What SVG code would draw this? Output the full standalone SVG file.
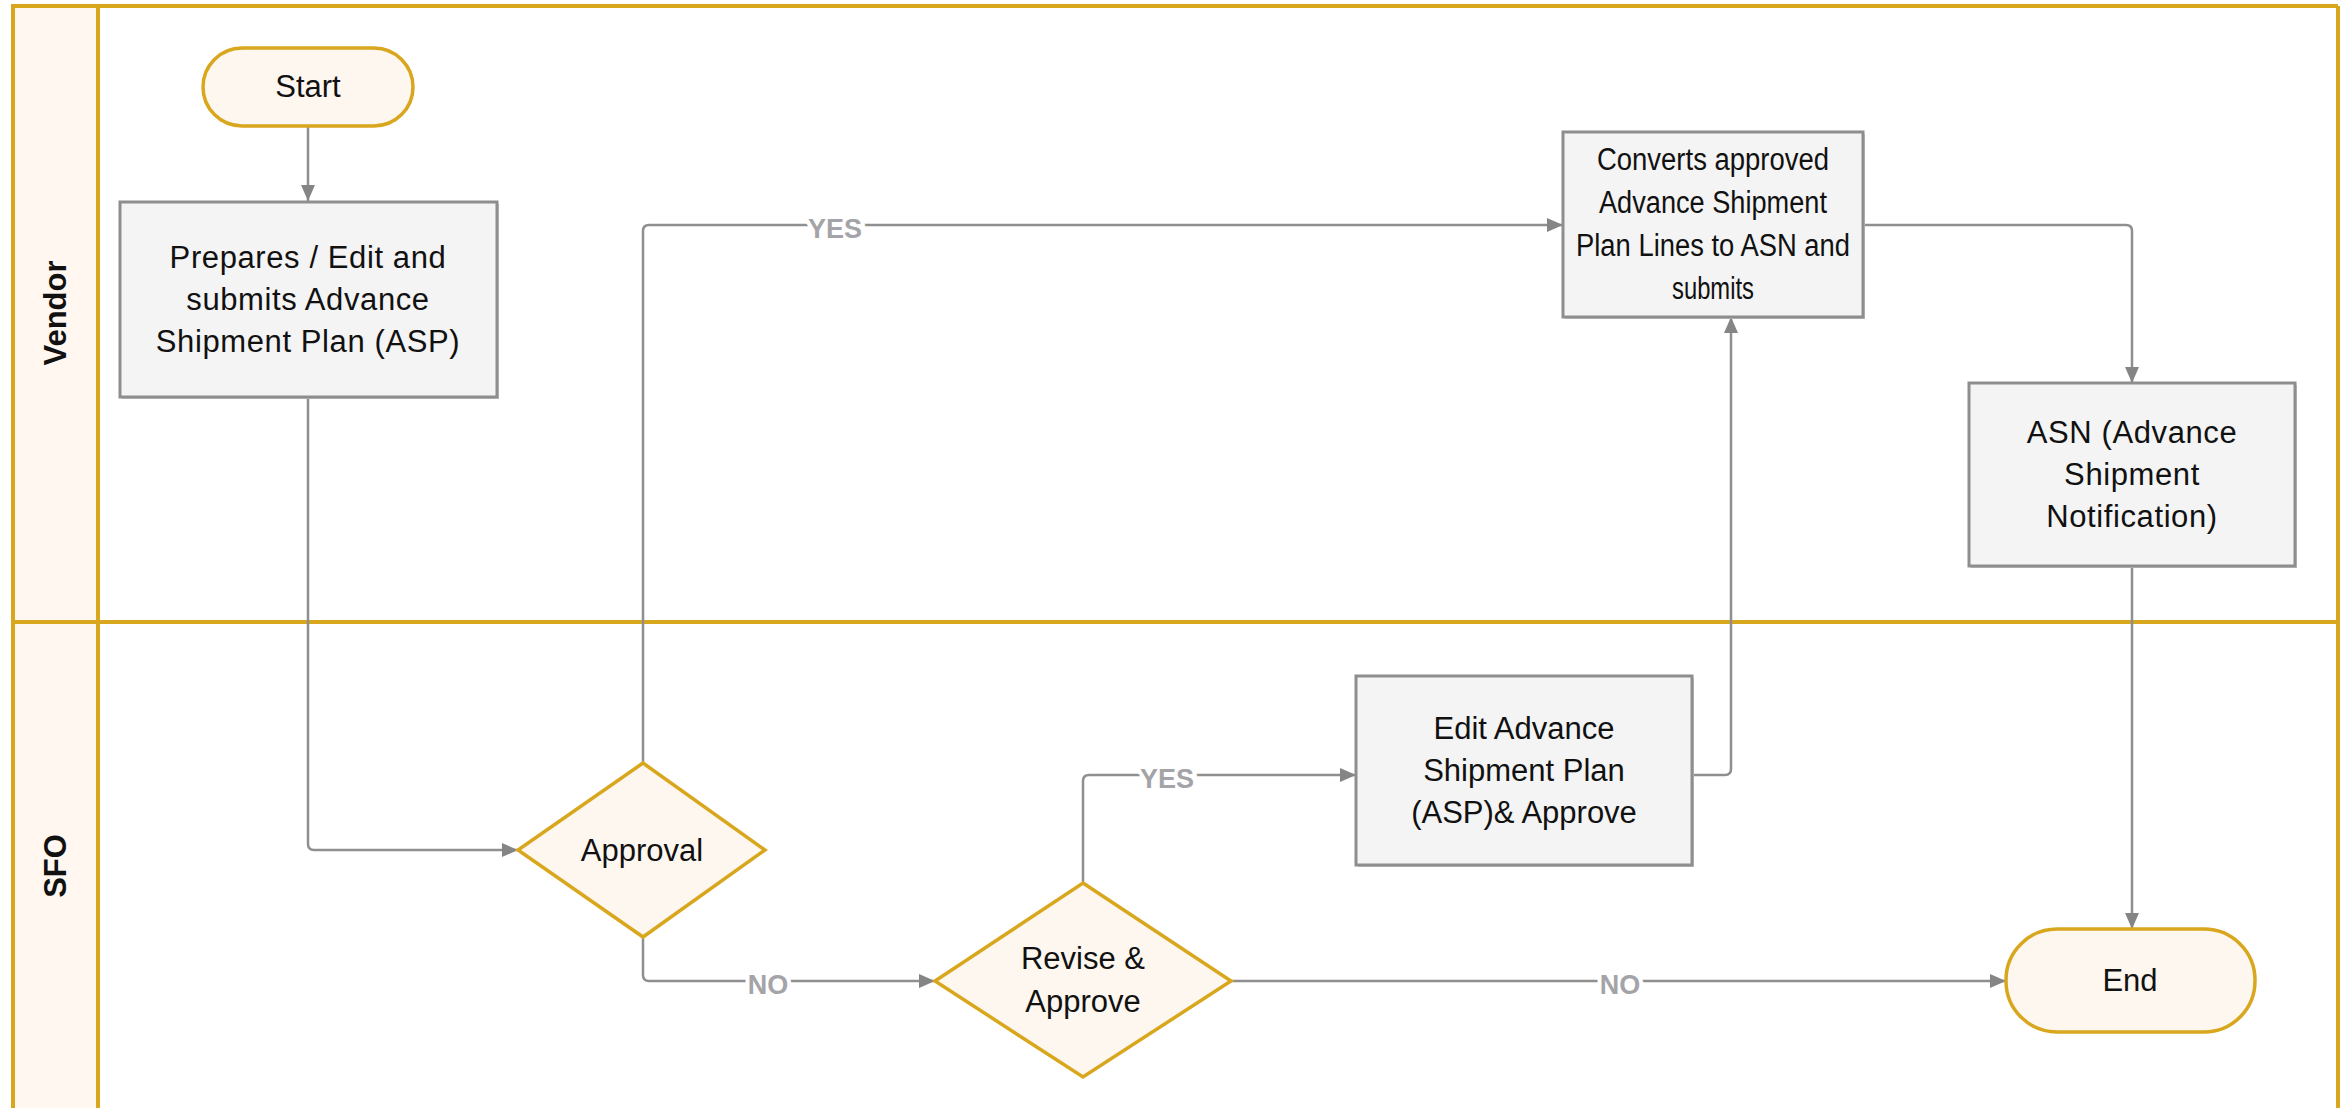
<svg xmlns="http://www.w3.org/2000/svg" width="2346" height="1108" viewBox="0 0 2346 1108">
  <style>
    .lane { fill: none; stroke: #D9A71E; stroke-width: 4; }
    .hdr { fill: #FFF7F0; stroke: #D9A71E; stroke-width: 4; }
    .hdrtxt { font-family: "Liberation Sans", Arial, sans-serif; font-weight: bold; font-size: 31px; fill: #111; text-anchor: middle; }
    .term { fill: #FEF7EF; stroke: #D9A71E; stroke-width: 3.5; }
    .dec { fill: #FEF7EF; stroke: #D9A71E; stroke-width: 3.5; }
    .proc { fill: #F4F4F4; stroke: #8E8E8E; stroke-width: 3; }
    .shadow { fill: #C8C8C8; }
    .txt { font-family: "Liberation Sans", Arial, sans-serif; font-size: 31px; fill: #111; text-anchor: middle; }
    .wide { letter-spacing: 0.6px; }
    .conn { fill: none; stroke: #8F8F8F; stroke-width: 2.5; }
    .lbl { font-family: "Liberation Sans", Arial, sans-serif; font-weight: bold; font-size: 27px; fill: #A4A4A8; text-anchor: middle; stroke: #FFFFFF; stroke-width: 8; paint-order: stroke; }
  </style>
  <defs>
    <marker id="arrow" viewBox="0 0 16 16" refX="16" refY="8" markerWidth="16" markerHeight="16" markerUnits="userSpaceOnUse" orient="auto">
      <path d="M0,1 L16,8 L0,15 z" fill="#858585"/>
    </marker>
  </defs>
  <rect width="2346" height="1108" fill="#FFFFFF"/>

  <g id="lanes">
    <rect class="hdr" x="13" y="6" width="85" height="1110"/>
    <line class="lane" x1="13" y1="6" x2="2338" y2="6"/>
    <line class="lane" x1="2338" y1="6" x2="2338" y2="1110"/>
    <line class="lane" x1="13" y1="622" x2="2338" y2="622"/>
    <g id="lane-vendor">
      <text class="hdrtxt" transform="translate(66,313) rotate(-90)">Vendor</text>
    </g>
    <g id="lane-sfo">
      <text class="hdrtxt" transform="translate(66,866) rotate(-90)">SFO</text>
    </g>
  </g>

  <g id="connectors">
    <path class="conn" marker-end="url(#arrow)" d="M308 126 V201"/>
    <path class="conn" marker-end="url(#arrow)" d="M308 397 V844 Q308 850 314 850 H518"/>
    <path class="conn" marker-end="url(#arrow)" d="M643 763 V231 Q643 225 649 225 H1563"/>
    <path class="conn" marker-end="url(#arrow)" d="M1863 225 H2126 Q2132 225 2132 231 V383"/>
    <path class="conn" marker-end="url(#arrow)" d="M2132 566 V929"/>
    <path class="conn" marker-end="url(#arrow)" d="M643 937 V975 Q643 981 649 981 H935"/>
    <path class="conn" marker-end="url(#arrow)" d="M1083 883 V781 Q1083 775 1089 775 H1356"/>
    <path class="conn" marker-end="url(#arrow)" d="M1692 775 H1725 Q1731 775 1731 769 V317"/>
    <path class="conn" marker-end="url(#arrow)" d="M1231 981 H2006"/>
    <text class="lbl" x="835" y="238">YES</text>
    <text class="lbl" x="1167" y="788">YES</text>
    <text class="lbl" x="768" y="994">NO</text>
    <text class="lbl" x="1620" y="994">NO</text>
  </g>

  <g id="start">
    <rect class="term" x="203" y="48" width="210" height="78" rx="39" ry="39"/>
    <text class="txt" x="308" y="97">Start</text>
  </g>

  <g id="prepare">
    <rect class="shadow" x="122" y="204" width="377" height="195"/>
    <rect class="proc" x="120" y="202" width="377" height="195"/>
    <text class="txt wide" x="308" y="268">Prepares / Edit and</text>
    <text class="txt wide" x="308" y="310">submits Advance</text>
    <text class="txt wide" x="308" y="352">Shipment Plan (ASP)</text>
  </g>

  <g id="converts">
    <rect class="shadow" x="1565" y="134" width="300" height="185"/>
    <rect class="proc" x="1563" y="132" width="300" height="185"/>
    <text class="txt" x="1713" y="170" textLength="232" lengthAdjust="spacingAndGlyphs">Converts approved</text>
    <text class="txt" x="1713" y="213" textLength="228" lengthAdjust="spacingAndGlyphs">Advance Shipment</text>
    <text class="txt" x="1713" y="256" textLength="274" lengthAdjust="spacingAndGlyphs">Plan Lines to ASN and</text>
    <text class="txt" x="1713" y="299" textLength="82" lengthAdjust="spacingAndGlyphs">submits</text>
  </g>

  <g id="asn">
    <rect class="shadow" x="1971" y="385" width="326" height="183"/>
    <rect class="proc" x="1969" y="383" width="326" height="183"/>
    <text class="txt wide" x="2132" y="443">ASN (Advance</text>
    <text class="txt wide" x="2132" y="485">Shipment</text>
    <text class="txt wide" x="2132" y="527">Notification)</text>
  </g>

  <g id="approval">
    <polygon class="dec" points="643,763 765,850 643,937 518,850"/>
    <text class="txt" x="642" y="861">Approval</text>
  </g>

  <g id="revise">
    <polygon class="dec" points="1083,883 1231,981 1083,1077 935,981"/>
    <text class="txt" x="1083" y="969">Revise &amp;</text>
    <text class="txt" x="1083" y="1012">Approve</text>
  </g>

  <g id="edit">
    <rect class="shadow" x="1358" y="678" width="336" height="189"/>
    <rect class="proc" x="1356" y="676" width="336" height="189"/>
    <text class="txt" x="1524" y="739">Edit Advance</text>
    <text class="txt" x="1524" y="781">Shipment Plan</text>
    <text class="txt" x="1524" y="823">(ASP)&amp; Approve</text>
  </g>

  <g id="end">
    <rect class="term" x="2006" y="929" width="249" height="103" rx="51" ry="51"/>
    <text class="txt" x="2130" y="991">End</text>
  </g>
</svg>
